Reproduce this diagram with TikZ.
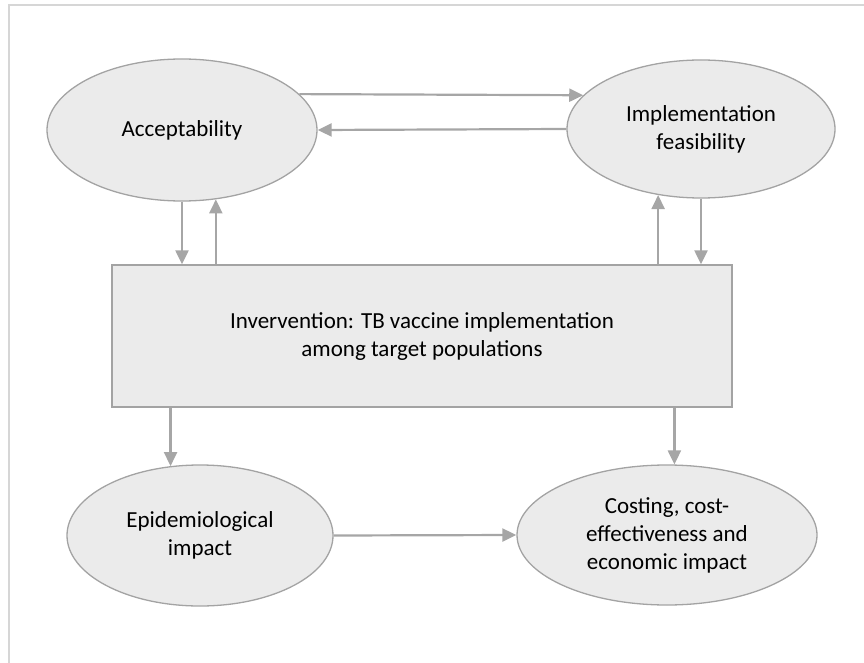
\documentclass[tikz,border=0pt]{standalone}
\usepackage{fontspec}
\setmainfont{Carlito}
\usetikzlibrary{shapes.geometric,arrows.meta}
\definecolor{cellfill}{HTML}{EBEBEB}
\definecolor{celledge}{HTML}{A3A3A3}
\definecolor{arrowgray}{HTML}{A6A6A6}
\definecolor{framegray}{HTML}{D6D6D6}
\begin{document}
\begin{tikzpicture}[x=1pt, y=-1pt,
	bubble/.style={ellipse, draw=celledge, fill=cellfill, line width=1.3pt, inner sep=0pt, align=center, font=\fontsize{23}{28}\selectfont},
	block/.style={rectangle, draw=celledge, fill=cellfill, line width=1.3pt, inner sep=0pt, align=center, font=\fontsize{23}{28}\selectfont},
	arr/.style={-{Triangle[length=14pt,width=13pt]}, draw=arrowgray, line width=2.2pt}]
	\useasboundingbox (0,0) rectangle (864,663);
	\draw[framegray, line width=1.5pt] (9,663) -- (9,5) -- (864,5);
	% the five parts
	\node[bubble, minimum width=270pt, minimum height=142pt] (acc)  at (182,130)   {Acceptability};
	\node[bubble, minimum width=268pt, minimum height=138pt] (impl) at (701,129)   {Implementation\\feasibility};
	\node[block,  minimum width=620pt, minimum height=142pt] (box)  at (422,336)   {Invervention: TB vaccine implementation\\among target populations};
	\node[bubble, minimum width=266pt, minimum height=141pt] (epi)  at (200,535.5) {Epidemiological\\impact};
	\node[bubble, minimum width=300pt, minimum height=140pt] (cost) at (667,535)   {Costing, cost-\\effectiveness and\\economic impact};
	% links
	\draw[arr] (acc.17)  -- (impl.164);
	\draw[arr] (impl.west) -- (acc.east);
	\draw[arr] (acc.south) -- (acc.south |- box.north);
	\draw[arr] (box.north -| acc.-64) -- (acc.-64);
	\draw[arr] (box.north -| impl.-123) -- (impl.-123);
	\draw[arr] (impl.south) -- (impl.south |- box.north);
	\draw[arr] (box.south -| epi.113) -- (epi.113);
	\draw[arr] (box.south -| cost.84) -- (cost.84);
	\draw[arr] (epi.east) -- (cost.west);
\end{tikzpicture}
\end{document}
